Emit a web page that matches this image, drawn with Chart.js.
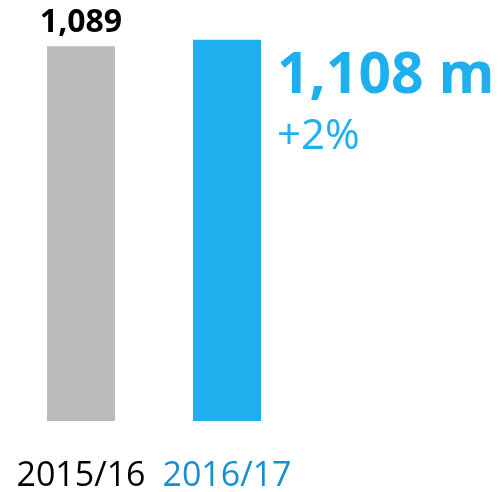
<!DOCTYPE html>
<html>
<head>
<meta charset="utf-8">
<script src="https://cdn.jsdelivr.net/npm/chart.js@4"></script>
<style>
  html, body { margin: 0; padding: 0; background: #fff; }
  #wrap { width: 501px; height: 492px; }
</style>
</head>
<body>
<div id="wrap"><canvas id="revChart" width="501" height="492"></canvas></div>
<script>
// Revenue by financial year
const years = ['2015/16', '2016/17'];
const revenue = [1089, 1108];
const growthText = '+2%';
const unit = 'm';

const GREY = '#bbbbbd';
const BLUE = '#1eb0ee';
const BLUE_DARK = '#168fd2';
const FONT = "'Open Sans', 'DejaVu Sans', sans-serif";

const fmt = v => v.toLocaleString('en-GB');

// labels: previous year above its bar, current year large to the right
const valueLabels = {
    id: 'valueLabels',
    afterDatasetsDraw(chart) {
        const ctx = chart.ctx;
        const bars = chart.getDatasetMeta(0).data;
        ctx.save();
        ctx.textBaseline = 'alphabetic';

        const prev = bars[0];
        ctx.fillStyle = '#000';
        ctx.font = `bold 32px ${FONT}`;
        ctx.textAlign = 'center';
        ctx.fillText(fmt(revenue[0]), prev.x, prev.y - 14);

        const cur = bars[1];
        const left = cur.x + cur.width / 2 + 16;
        ctx.textAlign = 'left';
        ctx.fillStyle = BLUE;
        ctx.font = `bold 57px ${FONT}`;
        ctx.fillText(`${fmt(revenue[1])} ${unit}`, left, cur.y + 53);
        ctx.font = `42px ${FONT}`;
        ctx.fillText(growthText, left, cur.y + 109);
        ctx.restore();
    }
};

const ctx = document.getElementById('revChart').getContext('2d');
new Chart(ctx, {
    type: 'bar',
    data: {
        labels: years,
        datasets: [{
            data: revenue,
            backgroundColor: [GREY, BLUE],
            borderWidth: 0,
            barPercentage: 0.466,
            categoryPercentage: 1
        }]
    },
    options: {
        responsive: false,
        animation: false,
        layout: { padding: { top: 8, left: 8, right: 201, bottom: 0 } },
        plugins: { legend: { display: false }, tooltip: { enabled: false } },
        scales: {
            x: {
                grid: { display: false, drawTicks: false },
                border: { display: false },
                afterFit(scale) {
                    // fixed axis band; labels may overhang the plot sideways
                    scale.height = 71;
                    scale.paddingLeft = 0;
                    scale.paddingRight = 0;
                },
                ticks: {
                    padding: 35,
                    font: { family: FONT, size: 34 },
                    color: c => c.index === 1 ? BLUE_DARK : '#000'
                }
            },
            y: {
                display: false,
                min: 0,
                max: 1200
            }
        }
    },
    plugins: [valueLabels]
});
</script>
</body>
</html>
